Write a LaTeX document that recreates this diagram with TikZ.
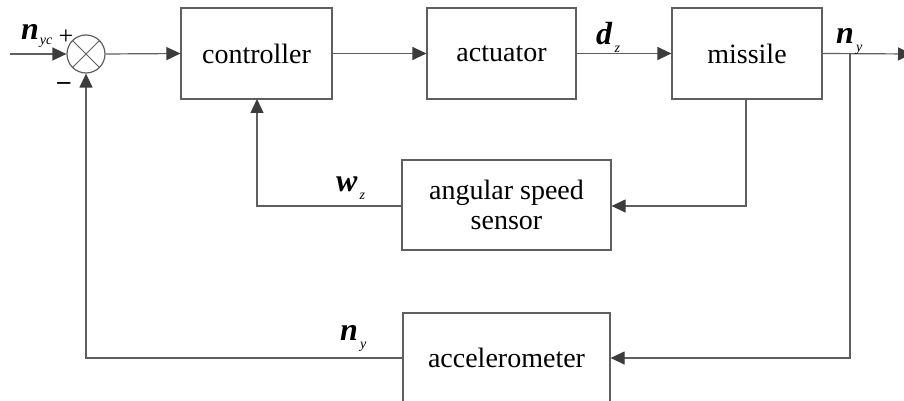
\documentclass[tikz,border=0pt]{standalone}
\usepackage{fontspec}
\setmainfont{Liberation Serif}
\usetikzlibrary{arrows.meta}
\definecolor{ln}{RGB}{95,95,95}
\definecolor{ah}{RGB}{60,60,60}
\newcommand{\sig}[2]{\textbf{\textit{#1}}\kern2pt\raisebox{-8pt}{\fontsize{14}{14}\selectfont\textit{#2}}}
\newcommand{\sigb}[2]{\textbf{\textit{#1}}\kern1pt\raisebox{-5pt}{\fontsize{14}{14}\selectfont\textit{#2}}}
\begin{document}
\begin{tikzpicture}[x=1pt,y=-1pt,
  blk/.style={draw=ln,line width=1.2pt,rectangle,inner sep=0pt,font=\fontsize{28}{32}\selectfont,align=center},
  wire/.style={draw=ln,line width=1.2pt},
  arr/.style={wire,-{Triangle[length=14pt,width=13pt,fill=ah,color=ah]}},
  lbl/.style={font=\fontsize{32}{34}\selectfont,inner sep=0pt,anchor=base west}]
\useasboundingbox (0,0) rectangle (904,401);
\node[draw=ln,line width=1.2pt,circle,minimum size=38pt,inner sep=0pt] (sum) at (86,54) {};
\draw[ln,line width=0.9pt] (sum.north west) -- (sum.south east) (sum.north east) -- (sum.south west);
\node[blk,minimum width=151pt,minimum height=91pt] (ctl) at (256.5,53.5) {controller};
\node[blk,minimum width=149pt,minimum height=91pt] (act) at (501.5,53.5) {actuator};
\node[blk,minimum width=150pt,minimum height=91pt] (mis) at (747,53.5) {missile};
\node[blk,minimum width=209pt,minimum height=90pt] (sen) at (506.5,205) {angular speed\\[-2pt]sensor};
\node[blk,minimum width=207pt,minimum height=90pt] (acc) at (506.5,358) {accelerometer};
\coordinate (in) at (10,54);
\coordinate (out) at (912,54);
\coordinate (br) at (850,54);
\coordinate (br2) at (850,358);
\coordinate (ms) at (746,99);
\coordinate (ms2) at (746,206);
\coordinate (cs) at (257,99);
\coordinate (cs2) at (257,206);
\coordinate (ss2) at (86,358);
\draw[arr] (in) -- (sum.west);
\draw[arr] (sum.east) -- (ctl.west);
\draw[arr] (ctl.east) -- (act.west);
\draw[arr] (act.east) -- (mis.west);
\draw[arr] (mis.east) -- (out);
\draw[arr] (br) -- (br2) -- (acc.east);
\draw[arr] (ms) -- (ms2) -- (sen.east |- ms2);
\draw[arr] (sen.west |- cs2) -- (cs2) -- (cs);
\draw[arr] (acc.west |- ss2) -- (ss2) -- (sum.south);
\node[lbl] (lnyc) at (21,40) {\sigb{n}{yc}};
\node[font=\fontsize{26}{26}\selectfont,inner sep=0pt] (plus) at (66,37) {+};
\node[font=\fontsize{26}{26}\selectfont,inner sep=0pt] (minus) at (64,86) {\textbf{\char"2013}};
\node[lbl] (ldz) at (596,45) {\sig{d}{z}};
\node[lbl] (lny) at (836,44) {\sig{n}{y}};
\node[lbl] (lwz) at (336,191) {\sig{w}{z}};
\node[lbl] (lny2) at (340,340) {\sig{n}{y}};
\end{tikzpicture}
\end{document}
